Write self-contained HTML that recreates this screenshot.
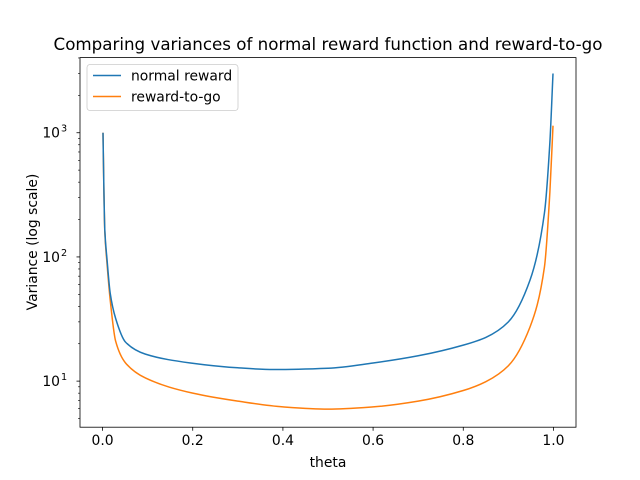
<!DOCTYPE html>
<html><head><meta charset="utf-8"><style>
body{margin:0;background:#fff;}
svg{display:block;font-family:"DejaVu Sans","Liberation Sans",sans-serif;}
</style></head><body>
<svg id="chart" width="640" height="480">
<rect x="0" y="0" width="640" height="480" fill="#fff"/>
<text x="328" y="50" font-size="16.7" text-anchor="middle">Comparing variances of normal reward function and reward-to-go</text>
<g id="ticks"></g>
<g id="series"></g>
<rect x="80" y="57.6" width="496" height="369.6" fill="none" stroke="#000" stroke-width="0.8"/>
<text x="328" y="467" font-size="13.9" text-anchor="middle">theta</text>
<text transform="translate(37,242) rotate(-90)" font-size="13.9" text-anchor="middle">Variance (log scale)</text>
<g>
<rect x="87" y="64.5" width="151" height="46" rx="3" fill="#fff" fill-opacity="0.8" stroke="#ccc" stroke-width="0.8"/>
<line x1="93" y1="75.5" x2="121" y2="75.5" stroke="#1f77b4" stroke-width="1.5"/>
<text x="131" y="80.5" font-size="13.9">normal reward</text>
<line x1="93" y1="96.5" x2="121" y2="96.5" stroke="#ff7f0e" stroke-width="1.5"/>
<text x="131" y="101.5" font-size="13.9">reward-to-go</text>
</g>
</svg>
<script>
const thetaNormal = [0.001,0.003,0.005,0.01,0.017,0.029,0.051,0.095,0.195,0.3,0.38,0.5,0.6,0.7,0.8,0.85,0.9,0.948,0.98,0.992,0.999];
const normalValues = [1000,345,165,95,51,32,20.6,16.5,14.0,12.8,12.4,12.7,14.0,16.0,19.5,22.5,30,65,226,830,3000];
const thetaRtg = [0.001,0.003,0.005,0.01,0.017,0.029,0.051,0.095,0.2,0.3,0.4,0.5,0.6,0.7,0.8,0.85,0.9,0.948,0.98,0.992,0.999];
const rtgValues = [1000,340,160,88,45,21,14,10.6,8.0,6.9,6.2,5.95,6.2,6.9,8.4,9.9,13.3,27.3,83,330,1140];
const xTicks = [0,0.2,0.4,0.6,0.8,1.0];
const xTickLabels = ["0.0","0.2","0.4","0.6","0.8","1.0"];
const yTicks = [10,100,1000];
const yTickExps = ["1","2","3"];

const NS="http://www.w3.org/2000/svg";
const L=80,R=576,T=57.6,B=427.2;
const xMin=-0.05,xMax=1.05;
const yMinL=0.629,yMaxL=3.605;
function xs(v){return L+(v-xMin)/(xMax-xMin)*(R-L);}
function ys(v){return B-(Math.log10(v)-yMinL)/(yMaxL-yMinL)*(B-T);}
const tg=document.getElementById('ticks');
function mk(tag,attrs,parent){const e=document.createElementNS(NS,tag);for(const k in attrs)e.setAttribute(k,attrs[k]);parent.appendChild(e);return e;}
xTicks.forEach((t,i)=>{
  const l=mk('line',{x1:xs(t),x2:xs(t),y1:B,y2:B+3.5,stroke:'#000','stroke-width':0.8},tg);
  
  
  const tx=mk('text',{x:xs(t),y:B+18,'font-size':13.9,'text-anchor':'middle'},tg);
  tx.textContent=xTickLabels[i];
  
  
});
yTicks.forEach((t,i)=>{
  const y=ys(t);
  const l=mk('line',{x1:L-3.5,x2:L,y1:y,y2:y,stroke:'#000','stroke-width':0.8},tg);
  
  
  const tx=mk('text',{x:L-20,y:y+5,'font-size':13.9,'text-anchor':'end'},tg);
  tx.textContent='10';
  
  
  const sp=mk('text',{x:L-19,y:y-1,'font-size':9.7,'text-anchor':'start'},tg);
  sp.textContent=yTickExps[i];
  
  
});
for(let d=0;d<=3;d++){for(let m=2;m<=9;m++){const v=m*Math.pow(10,d);const y=ys(v);if(y<T||y>B)continue;
  const l=mk('line',{x1:L-2,x2:L,y1:y,y2:y,stroke:'#000','stroke-width':0.6},tg);
  
  
}}
const sg=document.getElementById('series');
function smoothPath(px,py){
  const n=px.length,dx=[],m=[],t=new Array(n);
  for(let i=0;i<n-1;i++){dx.push(px[i+1]-px[i]);m.push((py[i+1]-py[i])/(px[i+1]-px[i]));}
  t[0]=m[0];t[n-1]=m[n-2];
  for(let i=1;i<n-1;i++){t[i]=(m[i-1]*m[i]<=0)?0:3*(dx[i-1]+dx[i])/((2*dx[i]+dx[i-1])/m[i-1]+(dx[i]+2*dx[i-1])/m[i]);}
  let d='M'+px[0].toFixed(2)+','+py[0].toFixed(2);
  for(let i=0;i<n-1;i++){const h=dx[i]/3;
    d+=' C'+(px[i]+h).toFixed(2)+','+(py[i]+t[i]*h).toFixed(2)+' '+(px[i+1]-h).toFixed(2)+','+(py[i+1]-t[i+1]*h).toFixed(2)+' '+px[i+1].toFixed(2)+','+py[i+1].toFixed(2);}
  return d;
}
function draw(xa,va,color,name){
  const px=xa.map(xs),py=va.map(ys);
  const p=mk('path',{d:smoothPath(px,py),fill:'none',stroke:color,'stroke-width':1.5,'stroke-linejoin':'round'},sg);
  
  
}
draw(thetaRtg,rtgValues,'#ff7f0e','reward-to-go-line');
draw(thetaNormal,normalValues,'#1f77b4','normal-reward-line');
</script>
</body></html>
